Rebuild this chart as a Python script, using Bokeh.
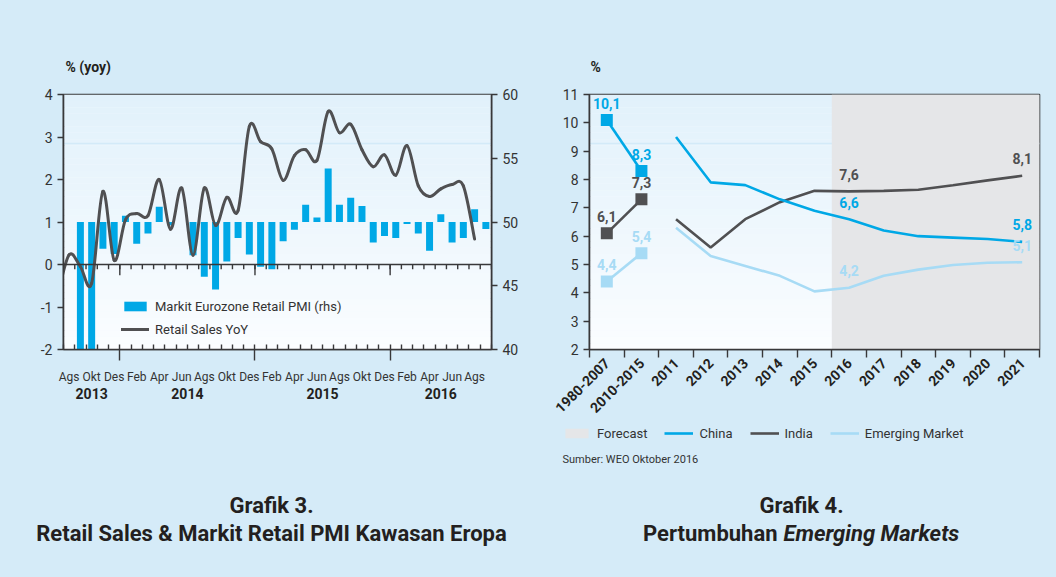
import math
from bokeh.plotting import figure
from bokeh.models import (Range1d, LinearAxis, FixedTicker, Span, BoxAnnotation,
                          Legend, LegendItem, ColumnDataSource)
from bokeh.layouts import row, column
from bokeh.embed import file_html
from bokeh.resources import INLINE
from bokeh.core.properties import value

FONT = "Roboto"
PANEL = "#d5ebf8"
CYAN = "#00a8e6"
GREY = "#505052"
PALE = "#a7dbf5"
SHADE = "#e5e6e8"
INK = "#231f20"
AX = "#38383a"
NAN = float("nan")

# ---------------- Grafik 3 data ----------------
month_names = ["Ags", "Sep", "Okt", "Nov", "Des",
               "Jan", "Feb", "Mar", "Apr", "Mei", "Jun", "Jul", "Ags", "Sep", "Okt", "Nov", "Des",
               "Jan", "Feb", "Mar", "Apr", "Mei", "Jun", "Jul", "Ags", "Sep", "Okt", "Nov", "Des",
               "Jan", "Feb", "Mar", "Apr", "Mei", "Jun", "Jul", "Ags", "Sep"]
month_years = [2013] * 5 + [2014] * 12 + [2015] * 12 + [2016] * 9
retail_jul_2013 = -0.7
retail_yoy = [0.23, -0.05, -0.44, 1.72, 0.10,
              1.05, 1.20, 1.15, 2.00, 0.83, 1.80, 0.22, 1.80, 0.92, 1.58, 1.27, 3.25,
              2.89, 2.72, 1.98, 2.56, 2.70, 2.45, 3.60, 3.10, 3.30, 2.70, 2.30, 2.58,
              2.10, 2.80, 1.85, 1.60, 1.78, 1.88, 1.85, 0.60, NAN]
retail_pmi = [NAN, 40.0, 40.0, 47.9, 47.5,
              50.5, 48.3, 49.1, 51.2, 49.75, 50.0, 47.4, 45.7, 44.7, 46.9, 48.75, 47.45,
              46.5, 46.3, 48.5, 49.4, 51.35, 50.35, 54.2, 51.35, 51.9, 51.25, 48.4, 48.9,
              48.75, 49.85, 49.1, 47.75, 50.6, 48.4, 48.75, 51.0, 49.45]
pmi_base = 50.0

# ---------------- Grafik 4 data ----------------
categories = ["1980-2007", "2010-2015", "2011", "2012", "2013", "2014", "2015",
              "2016", "2017", "2018", "2019", "2020", "2021"]
forecast_from = "2016"
china_avg = [10.1, 8.3]
india_avg = [6.1, 7.3]
em_avg = [4.4, 5.4]
china = [9.5, 7.9, 7.8, 7.3, 6.9, 6.6, 6.2, 6.0, 5.95, 5.9, 5.8]
india = [6.6, 5.6, 6.6, 7.2, 7.6, 7.58, 7.6, 7.64, 7.8, 7.97, 8.13]
em = [6.3, 5.3, 4.95, 4.6, 4.05, 4.18, 4.6, 4.82, 4.98, 5.06, 5.08]
labelled_years = ["2016", "2021"]


def fmt(v):
    return ("%.1f" % v).replace(".", ",")


def gradient(p, y0, y1, top_rgb, bot_rgb, n=40):
    for k in range(n):
        a = y0 + (y1 - y0) * k / n
        b = y0 + (y1 - y0) * (k + 1) / n
        t = (k + 0.5) / n
        c = tuple(int(round(bot_rgb[j] + (top_rgb[j] - bot_rgb[j]) * t)) for j in range(3))
        p.add_layout(BoxAnnotation(bottom=a, top=b, fill_color="#%02x%02x%02x" % c,
                                   fill_alpha=1.0, line_color=None, level="underlay"))


def style_axis(ax, size="14px", bold=False):
    ax.major_label_text_font = FONT
    ax.major_label_text_font_size = size
    ax.major_label_text_color = "#333333"
    ax.major_label_text_font_style = "bold" if bold else "normal"
    ax.axis_line_color = AX
    ax.axis_line_width = 1.6
    ax.major_tick_line_color = AX
    ax.minor_tick_line_color = AX
    ax.major_tick_line_width = 1.4
    ax.minor_tick_line_width = 1.4


def strip(w, h):
    f = figure(width=w, height=h, x_range=Range1d(0, w), y_range=Range1d(0, h),
               output_backend="svg", toolbar_location=None, min_border=0,
               x_axis_type=None, y_axis_type=None)
    f.background_fill_color = PANEL
    f.border_fill_color = PANEL
    f.outline_line_color = None
    f.grid.visible = False
    return f


CH_H = 334
# ================= Left chart =================
n_months = len(month_names)
mx = list(range(n_months))
lo, hi = -2, 4
left = figure(width=536, height=CH_H, x_range=Range1d(-0.5, n_months - 0.5),
              y_range=Range1d(lo, hi), output_backend="svg", toolbar_location=None,
              min_border_left=63, min_border_right=45, min_border_top=8, min_border_bottom=66,
              x_axis_type=None, y_axis_type=None)
left.extra_y_ranges = {"pmi": Range1d(40, 60)}
left.background_fill_color = "#f4fafe"
left.border_fill_color = PANEL
left.outline_line_color = AX
left.outline_line_width = 1.6
left.grid.visible = False
gradient(left, lo, hi, (225, 241, 251), (251, 253, 255))
left.add_layout(Span(location=2.85, dimension="width", line_color="#d3eaf8",
                     line_width=1.5, level="underlay"))

bars = left.vbar(x=mx, top=retail_pmi, bottom=pmi_base, width=0.62, y_range_name="pmi",
                 fill_color=CYAN, line_color=None)

# smoothed retail sales line (Catmull-Rom through the monthly points)
pts = [(-1, retail_jul_2013)] + [(i, v) for i, v in zip(mx, retail_yoy) if not math.isnan(v)]
bz = dict(x0=[], y0=[], x1=[], y1=[], cx0=[], cy0=[], cx1=[], cy1=[])
for k in range(len(pts) - 1):
    p0 = pts[max(k - 1, 0)]
    p1 = pts[k]
    p2 = pts[k + 1]
    p3 = pts[min(k + 2, len(pts) - 1)]
    bz["x0"].append(p1[0]); bz["y0"].append(p1[1])
    bz["x1"].append(p2[0]); bz["y1"].append(p2[1])
    bz["cx0"].append(p1[0] + (p2[0] - p0[0]) / 6.0)
    bz["cy0"].append(p1[1] + (p2[1] - p0[1]) / 6.0)
    bz["cx1"].append(p2[0] - (p3[0] - p1[0]) / 6.0)
    bz["cy1"].append(p2[1] - (p3[1] - p1[1]) / 6.0)
curve = left.bezier(x0="x0", y0="y0", x1="x1", y1="y1", cx0="cx0", cy0="cy0", cx1="cx1",
                    cy1="cy1", source=ColumnDataSource(bz), line_color=GREY, line_width=3,
                    line_cap="round")

# zero line with month ticks
bounds = [i - 0.5 for i in range(n_months + 1)]
year_bounds = [i - 0.5 for i in range(1, n_months) if month_years[i] != month_years[i - 1]]
left.add_layout(Span(location=0, dimension="width", line_color=AX, line_width=1.6))
left.segment(x0=bounds, y0=[0] * len(bounds), x1=bounds, y1=[-0.11] * len(bounds),
             line_color=AX, line_width=1.4)
left.segment(x0=year_bounds, y0=[0] * len(year_bounds), x1=year_bounds,
             y1=[-0.25] * len(year_bounds), line_color=AX, line_width=1.4)

lticks = list(range(lo, hi + 1))
yl = LinearAxis(ticker=FixedTicker(ticks=lticks),
                major_label_overrides={t: str(t) for t in lticks})
style_axis(yl)
yl.major_tick_in = 0
yl.major_tick_out = 6
yl.major_label_standoff = 5
left.add_layout(yl, "left")

yr = LinearAxis(y_range_name="pmi", ticker=FixedTicker(ticks=[40, 45, 50, 55, 60]))
style_axis(yr)
yr.major_tick_in = 0
yr.major_tick_out = 6
yr.major_label_standoff = 5
left.add_layout(yr, "right")

# bottom axis: month ticks (inward) and long year-boundary ticks (outward)
xb = LinearAxis(ticker=FixedTicker(ticks=year_bounds, minor_ticks=bounds),
                major_label_overrides={b: "" for b in year_bounds})
style_axis(xb)
xb.major_tick_in = 0
xb.major_tick_out = 11
xb.minor_tick_in = 5
xb.minor_tick_out = 0
xb.major_label_standoff = 0
left.add_layout(xb, "below")

even = [i for i in mx if i % 2 == 0]
xm = LinearAxis(ticker=FixedTicker(ticks=even, minor_ticks=[]),
                major_label_overrides={i: month_names[i] for i in even})
style_axis(xm, size="12px")
xm.axis_line_color = None
xm.major_tick_line_color = None
xm.major_tick_in = 0
xm.major_tick_out = 0
xm.major_label_standoff = 9
left.add_layout(xm, "below")

years = sorted(set(month_years))
ypos = [sum(i for i in mx if month_years[i] == y) / month_years.count(y) for y in years]
xy = LinearAxis(ticker=FixedTicker(ticks=ypos, minor_ticks=[]),
                major_label_overrides={p: str(y) for p, y in zip(ypos, years)})
style_axis(xy, size="14px", bold=True)
xy.major_label_text_color = INK
xy.axis_line_color = None
xy.major_tick_line_color = None
xy.major_tick_in = 0
xy.major_tick_out = 0
xy.major_label_standoff = 1
left.add_layout(xy, "below")

lleg = Legend(items=[LegendItem(label="Markit Eurozone Retail PMI (rhs)", renderers=[bars]),
                     LegendItem(label="Retail Sales YoY", renderers=[curve])],
              location=(58, 12), background_fill_alpha=0, border_line_color=None,
              glyph_width=28, glyph_height=12, label_standoff=6, spacing=7,
              padding=0, margin=0, label_height=16,
              label_text_font=FONT, label_text_font_size="13px", label_text_color="#333333")
left.add_layout(lleg)

# ================= Right chart =================
nc = len(categories)
cx = list(range(nc))
ylo, yhi = 2, 11
right = figure(width=520, height=CH_H, x_range=Range1d(-0.5, nc - 0.5),
               y_range=Range1d(ylo, yhi), output_backend="svg", toolbar_location=None,
               min_border_left=53, min_border_right=17, min_border_top=8, min_border_bottom=66,
               x_axis_type=None, y_axis_type=None)
right.background_fill_color = "#f4fafe"
right.border_fill_color = PANEL
right.outline_line_color = AX
right.outline_line_width = 1.6
right.grid.visible = False
gradient(right, ylo, yhi, (225, 241, 251), (251, 253, 255))
right.add_layout(Span(location=9.27, dimension="width", line_color="#d3eaf8",
                      line_width=1.5, level="underlay"))

fc = categories.index(forecast_from)
right.quad(left=[fc - 0.5], right=[nc - 0.5], bottom=[ylo], top=[yhi],
           fill_color=SHADE, line_color=None)

yrs_x = cx[2:]
right.line(yrs_x, em, line_color=PALE, line_width=2.6)
right.line(yrs_x, india, line_color=GREY, line_width=2.6)
right.line(yrs_x, china, line_color=CYAN, line_width=2.6)
for avg, col in ((em_avg, PALE), (india_avg, GREY), (china_avg, CYAN)):
    right.line(cx[:2], avg, line_color=col, line_width=2.6)
    right.scatter(cx[:2], avg, marker="square", size=12, fill_color=col, line_color=None)

lab_idx = [categories.index(c) for c in labelled_years]
for avg, series, col in ((em_avg, em, PALE), (india_avg, india, GREY), (china_avg, china, CYAN)):
    xs = cx[:2] + lab_idx
    ys = avg + [series[i - 2] for i in lab_idx]
    right.text(x=xs, y=ys, text=[fmt(v) for v in ys], text_font=value(FONT),
               text_font_style="bold", text_font_size="14px", text_color=col,
               text_align="center", text_baseline="middle", y_offset=-17)

ryl = LinearAxis(ticker=FixedTicker(ticks=list(range(ylo, yhi + 1))))
style_axis(ryl)
ryl.major_tick_in = 0
ryl.major_tick_out = 6
ryl.major_label_standoff = 5
right.add_layout(ryl, "left")

rx = LinearAxis(ticker=FixedTicker(ticks=cx, minor_ticks=[i - 0.5 for i in range(nc + 1)]),
                major_label_overrides={i: c for i, c in enumerate(categories)})
style_axis(rx, size="14px", bold=True)
rx.major_label_text_color = INK
rx.major_tick_in = 0
rx.major_tick_out = 0
rx.minor_tick_in = 0
rx.minor_tick_out = 8
rx.major_label_orientation = math.pi / 4
rx.major_label_standoff = 3
right.add_layout(rx, "below")

# ================= Text strips =================
top = strip(1056, 86)
top.text(x=[65, 590], y=[20, 20], text=["% (yoy)", "%"], text_font=value(FONT),
         text_font_style="bold", text_font_size="14px", text_color=INK,
         text_align="left", text_baseline="middle")

BH = 157
bot = strip(1056, BH)
# legend keys for Grafik 4 (styled like the chart's own renderers, no visible marks here)
k_fc = bot.quad(left=[NAN], right=[NAN], bottom=[NAN], top=[NAN], fill_color=SHADE,
                line_color=None)
k_cn = bot.line([NAN], [NAN], line_color=CYAN, line_width=2.6)
k_in = bot.line([NAN], [NAN], line_color=GREY, line_width=2.6)
k_em = bot.line([NAN], [NAN], line_color=PALE, line_width=2.6)
rleg = Legend(items=[LegendItem(label="Forecast", renderers=[k_fc]),
                     LegendItem(label="China", renderers=[k_cn]),
                     LegendItem(label="India", renderers=[k_in]),
                     LegendItem(label="Emerging Market", renderers=[k_em])],
              location=(562, BH - 441 + 420), orientation="horizontal",
              background_fill_alpha=0, border_line_color=None, glyph_width=29,
              glyph_height=12, label_standoff=6, spacing=17, padding=0, margin=0,
              label_height=16, label_text_font=FONT, label_text_font_size="13px",
              label_text_color="#333333")
bot.add_layout(rleg)
bot.text(x=[562], y=[BH - 459 + 420], text=["Sumber: WEO Oktober 2016"], text_font=value(FONT),
         text_font_size="11px", text_color="#333333", text_align="left", text_baseline="middle")
bot.text(x=[271, 271, 801], y=[BH - 505 + 420, BH - 533 + 420, BH - 505 + 420],
         text=["Grafik 3.", "Retail Sales & Markit Retail PMI Kawasan Eropa", "Grafik 4."],
         text_font=value(FONT), text_font_style="bold", text_font_size="22px",
         text_color=INK, text_align="center", text_baseline="middle")
bot.text(x=[777], y=[BH - 533 + 420], text=["Pertumbuhan"], text_font=value(FONT),
         text_font_style="bold", text_font_size="22px", text_color=INK, text_align="right",
         text_baseline="middle")
bot.text(x=[783], y=[BH - 533 + 420], text=["Emerging Markets"], text_font=value(FONT),
         text_font_style="bold italic", text_font_size="22px", text_color=INK,
         text_align="left", text_baseline="middle")

layout = column(top, row(left, right, spacing=0, styles={"background-color": PANEL}), bot,
                spacing=0, styles={"background-color": PANEL})
open("out.html", "w").write(file_html(layout, INLINE))
